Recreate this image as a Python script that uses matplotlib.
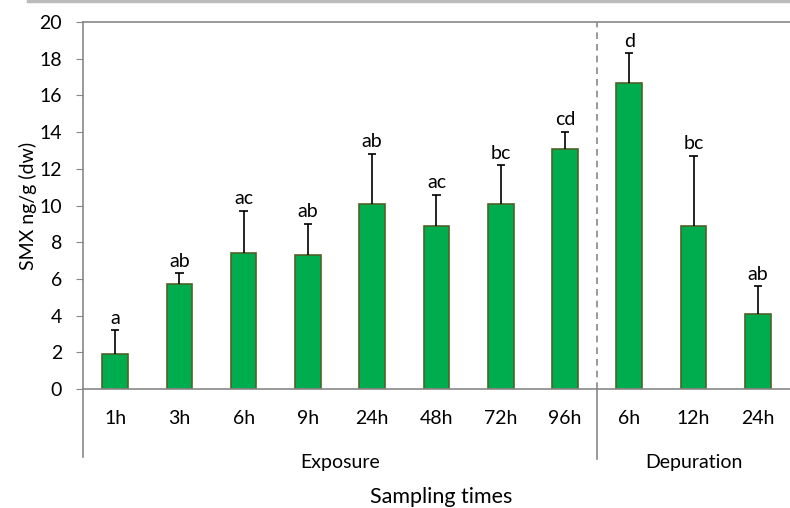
import numpy as np
import matplotlib.pyplot as plt
from matplotlib.transforms import blended_transform_factory

# ----------------------------------------------------
# Data
# ----------------------------------------------------

times = ["1h", "3h", "6h", "9h", "24h", "48h", "72h", "96h", "6h", "12h", "24h"]
smx = [1.9, 5.7, 7.4, 7.3, 10.1, 8.9, 10.1, 13.1, 16.7, 8.9, 4.1]
err_top = [3.2, 6.3, 9.7, 9.0, 12.8, 10.6, 12.2, 14.0, 18.3, 12.7, 5.6]
letters = ["a", "ab", "ac", "ab", "ab", "ac", "bc", "cd", "d", "bc", "ab"]
phases = ["Exposure", "Depuration"]
n_exposure = 8

plt.rcParams["font.family"] = ["Lato", "DejaVu Sans"]
fs = 14

fig = plt.figure(figsize=(7.9, 5.08), dpi=100)
ax = fig.add_axes([0.105, 0.234, 0.895, 0.7227])

x = np.arange(len(times))

ax.bar(x, smx, width=0.4, color="#00AD4E", edgecolor="#4F6228", linewidth=1.2, zorder=2)

# upper error bars only (no cap on the bar top)
ax.vlines(x, smx, err_top, color="black", linewidth=1.2, zorder=3)
ax.hlines(err_top, x - 0.065, x + 0.065, color="black", linewidth=1.2, zorder=3)

for xi, top, lab in zip(x, err_top, letters):
    ax.text(xi, top + 0.2, lab, ha="center", va="bottom", fontsize=fs)

# ----------------------------------------------------
# Axes styling
# ----------------------------------------------------

ax.set_xlim(-0.5, len(times) - 0.5)
ax.set_ylim(0, 20)
ax.set_yticks(np.arange(0, 21, 2))
ax.set_xticks(x)
ax.set_xticklabels(times, fontsize=fs)
ax.tick_params(axis="x", length=0, pad=15)
ax.tick_params(axis="y", length=5, color="#888888", labelsize=fs, pad=10)

ax.spines["right"].set_visible(False)
for s in ["left", "top", "bottom"]:
    ax.spines[s].set_color("#888888")
    ax.spines[s].set_linewidth(1.2)

ax.set_ylabel("SMX ng/g (dw)", fontsize=fs, labelpad=2)

# phase divider
sep = n_exposure - 0.5
ax.axvline(sep, color="#888888", linestyle=(0, (4, 3)), linewidth=1.2, zorder=1)
trans = blended_transform_factory(ax.transData, ax.transAxes)
ax.plot([sep, sep], [0, -0.19], color="#888888", linewidth=1.2, transform=trans, clip_on=False)
ax.plot([-0.5, -0.5], [0, -0.185], color="#888888", linewidth=1.2, transform=trans, clip_on=False)

ax.text((-0.5 + sep) / 2, -0.2, phases[0], ha="center", va="center", fontsize=fs, transform=trans)
ax.text((sep + len(times) - 0.5) / 2, -0.2, phases[1], ha="center", va="center", fontsize=fs, transform=trans)

fig.text(0.558, 0.022, "Sampling times", ha="center", va="center", fontsize=15.5)

# chart border remnant at the top
fig.add_artist(plt.Line2D([0.035, 1.0], [0.998, 0.998], color="#BBBBBB", linewidth=2.5))

fig.savefig("out.png", dpi=100)
